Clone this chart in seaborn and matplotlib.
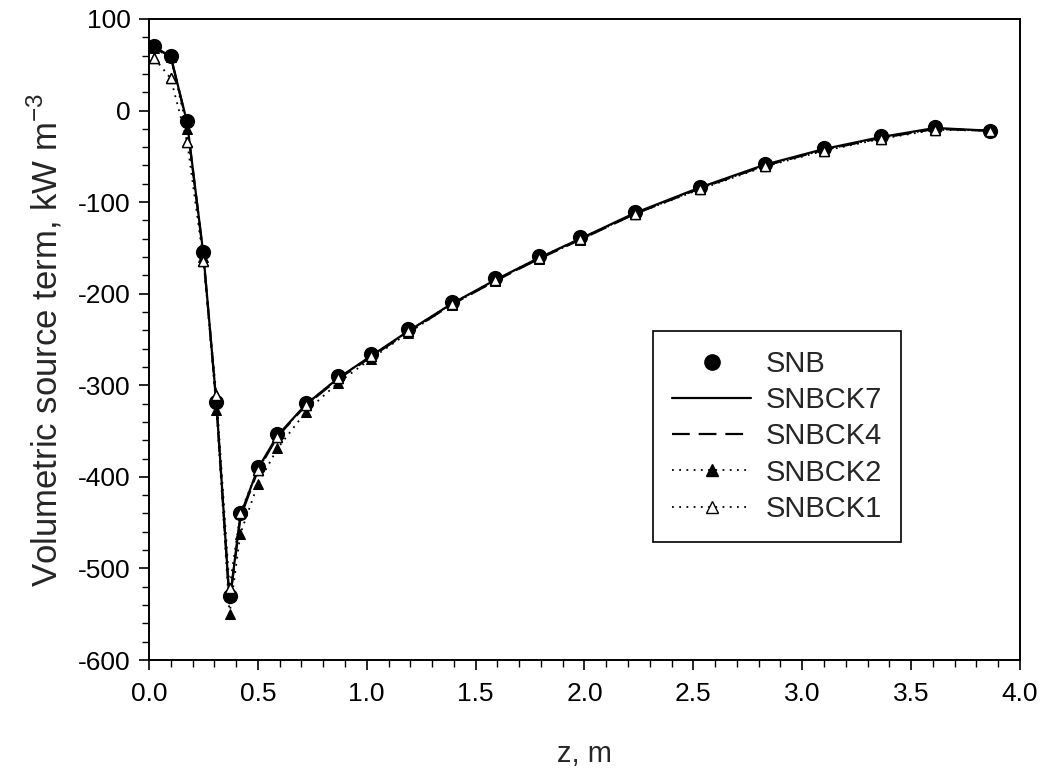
import numpy as np
import pandas as pd
import matplotlib
matplotlib.use("Agg")
import matplotlib.pyplot as plt
from matplotlib.ticker import MultipleLocator
from matplotlib.lines import Line2D
import seaborn as sns

# ---- data ----
z = [0.025, 0.10, 0.175, 0.25, 0.31, 0.37, 0.42, 0.50, 0.59, 0.72, 0.87, 1.02,
     1.19, 1.39, 1.59, 1.79, 1.98, 2.23, 2.53, 2.83, 3.10, 3.36, 3.61, 3.86]
snb = [70, 60, -11, -155, -318, -530, -439, -389, -353, -319, -290, -266,
       -239, -209, -183, -159, -138, -111, -83, -58, -41, -28, -18, -22]
snbck7 = [69, 59, -13, -157, -320, -536, -442, -391, -355, -321, -292, -268,
          -241, -211, -185, -161, -140, -112, -84, -59, -42, -29, -19, -22]
snbck4 = [69, 59, -14, -158, -321, -538, -444, -393, -356, -322, -293, -269,
          -242, -212, -186, -162, -141, -113, -85, -60, -43, -30, -20, -22]
snbck2 = [68, 58, -20, -160, -327, -550, -462, -408, -369, -329, -297, -271,
          -243, -212, -186, -162, -141, -113, -85, -60, -43, -30, -20, -22]
snbck1 = [57, 35, -34, -164, -311, -521, -439, -392, -356, -321, -292, -268,
          -241, -211, -185, -161, -140, -113, -86, -61, -44, -31, -21, -22]

x_ticks = [0.0, 0.5, 1.0, 1.5, 2.0, 2.5, 3.0, 3.5, 4.0]
y_ticks = [100, 0, -100, -200, -300, -400, -500, -600]

sns.set_style("ticks")
plt.rcParams['font.family'] = ['Liberation Sans', 'DejaVu Sans']
plt.rcParams['mathtext.fontset'] = 'custom'
plt.rcParams['mathtext.rm'] = 'Liberation Sans'

fig = plt.figure(figsize=(10.44, 7.68), dpi=100)
ax = fig.add_axes([0.1427, 0.1406, 0.977 - 0.1427, 0.9753 - 0.1406])

df = pd.DataFrame({"z": z, "SNB": snb, "SNBCK7": snbck7, "SNBCK4": snbck4,
                   "SNBCK2": snbck2, "SNBCK1": snbck1})

sns.lineplot(data=df, x="z", y="SNBCK1", ax=ax, color="black", lw=1.3,
             linestyle=(0, (1, 3)), marker="^", markersize=7,
             markerfacecolor="white", markeredgecolor="black",
             markeredgewidth=1.0, zorder=3)
sns.lineplot(data=df, x="z", y="SNBCK2", ax=ax, color="black", lw=1.3,
             linestyle=(0, (1, 3)), marker="^", markersize=7,
             markerfacecolor="black", markeredgecolor="black", zorder=3)
sns.lineplot(data=df, x="z", y="SNBCK4", ax=ax, color="black", lw=1.6,
             linestyle=(0, (8, 4)), zorder=4)
sns.lineplot(data=df, x="z", y="SNBCK7", ax=ax, color="black", lw=1.6,
             linestyle="-", zorder=4)
sns.scatterplot(data=df, x="z", y="SNB", ax=ax, color="black", s=120,
                marker="o", edgecolor="black", linewidth=0, zorder=2)
# open triangles drawn on top of the filled circles
ax.plot(z, snbck1, linestyle="none", marker="^", markersize=7,
        markerfacecolor="white", markeredgecolor="black", markeredgewidth=1.0,
        zorder=5)

ax.set_xlim(0, 4.0)
ax.set_ylim(-600, 100)
ax.set_xticks(x_ticks)
ax.set_xticklabels([f"{v:.1f}" for v in x_ticks])
ax.set_yticks(y_ticks)
ax.set_yticklabels([str(v) for v in y_ticks])
ax.xaxis.set_minor_locator(MultipleLocator(0.1))
ax.yaxis.set_minor_locator(MultipleLocator(20))
ax.tick_params(axis="both", which="major", direction="out", length=7,
               width=1.2, labelsize=19, color="black", labelcolor="black")
ax.tick_params(axis="both", which="minor", direction="out", length=5,
               width=1.0, color="black")
ax.tick_params(axis="x", pad=9)
ax.tick_params(axis="y", pad=6)
for s in ax.spines.values():
    s.set_visible(True)
    s.set_color("black")
    s.set_linewidth(1.4)

ax.set_xlabel("z, m", fontsize=21, labelpad=24)
ax.set_ylabel(r"Volumetric source term, kW m$^{-3}$", fontsize=25, labelpad=10)

handles = [
    Line2D([], [], linestyle="none", marker="o", color="black", markersize=11),
    Line2D([], [], linestyle="-", color="black", lw=1.6),
    Line2D([], [], linestyle=(0, (8, 4)), color="black", lw=1.6),
    Line2D([], [], linestyle=(0, (1, 3)), color="black", lw=1.3, marker="^",
           markersize=8, markerfacecolor="black"),
    Line2D([], [], linestyle=(0, (1, 3)), color="black", lw=1.3, marker="^",
           markersize=8, markerfacecolor="white", markeredgecolor="black"),
]
labels = ["SNB", "SNBCK7", "SNBCK4", "SNBCK2", "SNBCK1"]
leg = ax.legend(handles, labels, loc="upper left",
                bbox_to_anchor=(0.579, 0.513), fontsize=21, frameon=True,
                fancybox=False, shadow=False, handlelength=2.7,
                borderpad=0.65, labelspacing=0.28, handletextpad=0.5,
                borderaxespad=0)
leg.get_frame().set_edgecolor("black")
leg.get_frame().set_linewidth(1.2)
leg.get_frame().set_alpha(1)

fig.savefig("out.png", dpi=100)
